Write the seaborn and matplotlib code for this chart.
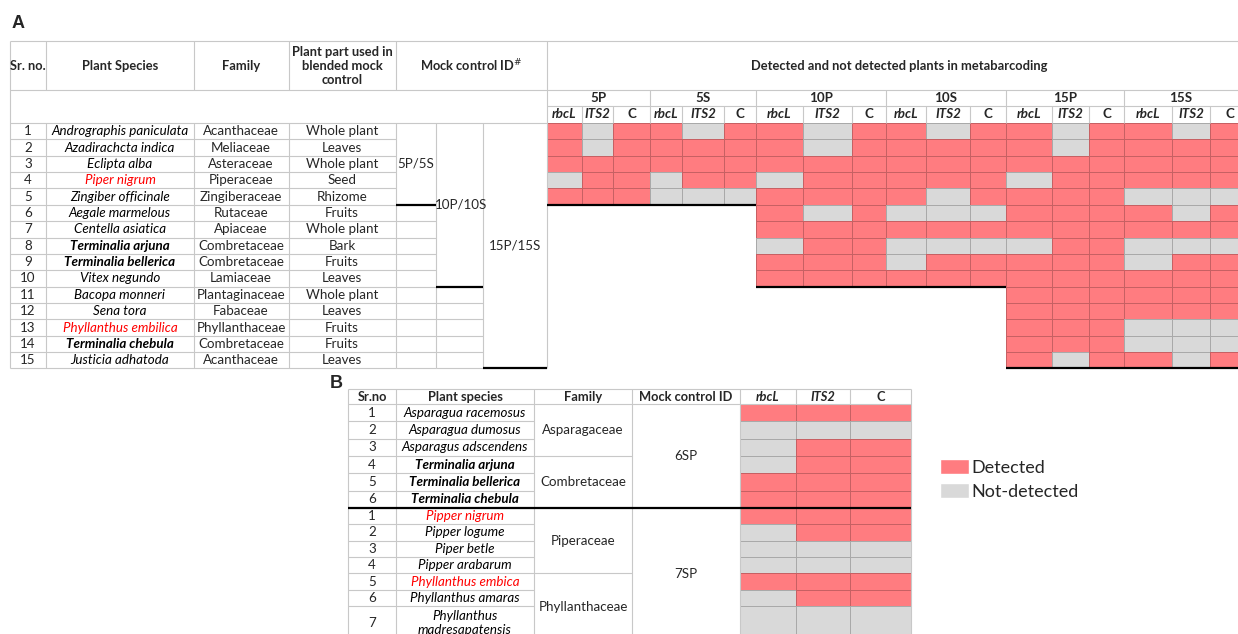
import matplotlib
matplotlib.use("Agg")
import matplotlib.pyplot as plt
import seaborn as sns
import numpy as np
import pandas as pd
from matplotlib.colors import ListedColormap
from matplotlib.patches import Patch

# ---- data: panel A (blended mock controls, 15 plants) ----
sr_a = [str(i) for i in range(1, 16)]
species_a = ["Andrographis paniculata", "Azadirachcta indica", "Eclipta alba", "Piper nigrum",
             "Zingiber officinale", "Aegale marmelous", "Centella asiatica", "Terminalia arjuna",
             "Terminalia bellerica", "Vitex negundo", "Bacopa monneri", "Sena tora",
             "Phyllanthus embilica", "Terminalia chebula", "Justicia adhatoda"]
family_a = ["Acanthaceae", "Meliaceae", "Asteraceae", "Piperaceae", "Zingiberaceae", "Rutaceae",
            "Apiaceae", "Combretaceae", "Combretaceae", "Lamiaceae", "Plantaginaceae", "Fabaceae",
            "Phyllanthaceae", "Combretaceae", "Acanthaceae"]
part_a = ["Whole plant", "Leaves", "Whole plant", "Seed", "Rhizome", "Fruits", "Whole plant", "Bark",
          "Fruits", "Leaves", "Whole plant", "Leaves", "Fruits", "Fruits", "Leaves"]
bold_a = ["Terminalia arjuna", "Terminalia bellerica", "Terminalia chebula"]
red_a = ["Piper nigrum", "Phyllanthus embilica"]

samples = ["5P", "5S", "10P", "10S", "15P", "15S"]
markers = ["rbcL", "ITS2", "C"]
# 1 = detected, 0 = not detected, one row per plant (rbcL, ITS2, C)
det_5P = [[1, 0, 1], [1, 0, 1], [1, 1, 1], [0, 1, 1], [1, 1, 1]]
det_5S = [[1, 0, 1], [1, 1, 1], [1, 1, 1], [0, 1, 1], [0, 0, 0]]
det_10P = [[1, 0, 1], [1, 0, 1], [1, 1, 1], [0, 1, 1], [1, 1, 1],
           [1, 0, 1], [1, 1, 1], [0, 1, 1], [1, 1, 1], [1, 1, 1]]
det_10S = [[1, 0, 1], [1, 1, 1], [1, 1, 1], [1, 1, 1], [1, 0, 1],
           [0, 0, 0], [1, 1, 1], [0, 0, 0], [0, 1, 1], [1, 1, 1]]
det_15P = [[1, 0, 1], [1, 0, 1], [1, 1, 1], [0, 1, 1], [1, 1, 1],
           [1, 1, 1], [1, 1, 1], [0, 1, 1], [1, 1, 1], [1, 1, 1],
           [1, 1, 1], [1, 1, 1], [1, 1, 1], [1, 1, 1], [1, 0, 1]]
det_15S = [[1, 0, 1], [1, 1, 1], [1, 1, 1], [1, 1, 1], [0, 0, 0],
           [1, 0, 1], [1, 1, 1], [0, 0, 0], [0, 1, 1], [1, 1, 1],
           [1, 1, 1], [1, 1, 1], [0, 0, 0], [0, 0, 0], [1, 0, 1]]

# ---- data: panel B (single mock controls) ----
sr_b = ["1", "2", "3", "4", "5", "6", "1", "2", "3", "4", "5", "6", "7"]
species_b = ["Asparagua racemosus", "Asparagua dumosus", "Asparagus adscendens", "Terminalia arjuna",
             "Terminalia bellerica", "Terminalia chebula", "Pipper nigrum", "Pipper logume",
             "Piper betle", "Pipper arabarum", "Phyllanthus embica", "Phyllanthus amaras",
             "Phyllanthus\nmadresapatensis"]
bold_b = ["Terminalia arjuna", "Terminalia bellerica", "Terminalia chebula"]
red_b = ["Pipper nigrum", "Phyllanthus embica"]
families_b = ["Asparagaceae", "Combretaceae", "Piperaceae", "Phyllanthaceae"]
mock_b = ["6SP", "7SP"]
det_6SP = [[1, 1, 1], [0, 0, 0], [0, 1, 1], [0, 1, 1], [1, 1, 1], [1, 1, 1]]
det_7SP = [[1, 1, 1], [0, 1, 1], [0, 0, 0], [0, 0, 0], [1, 1, 1], [0, 1, 1], [0, 0, 0]]

# build the panel A table (NaN = plant not in that mock control)
frames = []
for s, d in zip(samples, [det_5P, det_5S, det_10P, det_10S, det_15P, det_15S]):
    block = pd.DataFrame(d, columns=[f"{s}_{m}" for m in markers])
    frames.append(block.reindex(range(15)))
det_a = pd.concat(frames, axis=1)
det_a.index = sr_a

W, H = 1238, 634
RED = "#FF7C80"
GREY = "#D9D9D9"
GRID = "#C8C8C8"
FS = 9.6
FSH = 9.3

sns.set_theme(style="white")
plt.rcParams["font.family"] = ["Lato", "DejaVu Sans"]

fig = plt.figure(figsize=(W / 100, H / 100), dpi=100)
cmap = ListedColormap([GREY, RED])


def px_axes(x0, y0, x1, y1, **kw):
    return fig.add_axes([x0 / W, 1 - y1 / H, (x1 - x0) / W, (y1 - y0) / H], **kw)


def heat_col(col, x0, x1, y0, rh):
    col = col.dropna()
    hax = px_axes(x0, y0, x1, y0 + rh * len(col))
    sns.heatmap(col.to_frame(), ax=hax, cmap=cmap, vmin=0, vmax=1, cbar=False,
                linewidths=0.7, linecolor=(0, 0, 0, 0.22),
                xticklabels=False, yticklabels=False)
    hax.set_axis_off()


# panel A grid
xa = [547, 582, 613, 650, 682, 724, 756, 803, 852, 886, 926, 970, 1006, 1052, 1089, 1124, 1172, 1210, 1250]
top_a, rh_a = 123, 16.36
for j, c in enumerate(det_a.columns):
    heat_col(det_a[c], xa[j], xa[j + 1], top_a, rh_a)

# panel B grid (rows of 6SP, 7SP rows 1-6, tall row 7)
xb = [740, 796, 850, 911]
df_6 = pd.DataFrame(det_6SP, columns=markers)
df_7 = pd.DataFrame(det_7SP, columns=markers)
for j, m in enumerate(markers):
    heat_col(df_6[m], xb[j], xb[j + 1], 404, 104 / 6)
    heat_col(df_7[m].iloc[:6], xb[j], xb[j + 1], 508, 98 / 6)
    heat_col(df_7[m].iloc[6:], xb[j], xb[j + 1], 606, 34)

# overlay axes in pixel coordinates for the table text and rules
ax = fig.add_axes([0, 0, 1, 1], zorder=5)
ax.set_xlim(0, W)
ax.set_ylim(H, 0)
ax.axis("off")
ax.patch.set_alpha(0)


def hl(y, x0, x1, c=GRID, lw=0.8):
    ax.plot([x0, x1], [y, y], color=c, lw=lw, solid_capstyle="butt")


def vl(x, y0, y1, c=GRID, lw=0.8):
    ax.plot([x, x], [y0, y1], color=c, lw=lw, solid_capstyle="butt")


def txt(x, y, s, **kw):
    kw.setdefault("fontsize", FS)
    ax.text(x, y, s, ha="center", va="center", **kw)


# ----- panel A -----
ax.text(12, 23, "A", fontsize=13, fontweight="bold", family="Liberation Sans", va="center")
hl(41, 10, 1250)
hl(90, 10, 1250)
hl(106, 547, 1250)
hl(123, 10, 547)
for x in [46, 194, 289, 396]:
    vl(x, 41, 90)
vl(10, 41, 368)
vl(547, 41, 368)
for x in xa[3:-1:3]:
    vl(x, 90, 123)
for j, x in enumerate(xa[1:-1]):
    if (j + 1) % 3:
        vl(x, 106, 123)
for x in [46, 194, 289, 396, 436, 483]:
    vl(x, 123, 368)

txt(28, 66, "Sr. no.", fontweight="bold", fontsize=FSH)
txt(120, 66, "Plant Species", fontweight="bold", fontsize=FSH)
txt(241, 66, "Family", fontweight="bold", fontsize=FSH)
txt(342, 66, "Plant part used in\nblended mock\ncontrol", fontweight="bold", fontsize=FSH,
    linespacing=1.15)
txt(471, 66, r"Mock control ID$^{\#}$", fontweight="bold", fontsize=FSH)
txt(899, 66, "Detected and not detected plants in metabarcoding", fontweight="bold", fontsize=FSH)
for k, s in enumerate(samples):
    txt((xa[3 * k] + min(xa[3 * k + 3], 1238)) / 2, 98, s, fontweight="bold")
    for m in range(3):
        j = 3 * k + m
        txt((xa[j] + xa[j + 1]) / 2, 114.5, markers[m], fontweight="bold",
            fontstyle="normal" if markers[m] == "C" else "italic")

for i in range(15):
    yc = top_a + (i + 0.5) * rh_a
    yb = top_a + (i + 1) * rh_a
    sp = species_a[i]
    txt(28, yc, sr_a[i])
    txt(120, yc, sp, fontstyle="italic",
        fontweight="bold" if sp in bold_a else "normal",
        color="#FF0000" if sp in red_a else "black")
    txt(241, yc, family_a[i])
    txt(342, yc, part_a[i])
    hl(yb, 10, 396)
    if i >= 5:
        hl(yb, 396, 436)
    if i >= 10:
        hl(yb, 436, 483)

hl(top_a + 5 * rh_a, 396, 436, "black", 1.6)
hl(top_a + 5 * rh_a, 547, 756, "black", 1.6)
hl(top_a + 10 * rh_a, 436, 483, "black", 1.6)
hl(top_a + 10 * rh_a, 756, 1006, "black", 1.6)
hl(top_a + 15 * rh_a, 483, 547, "black", 1.6)
hl(top_a + 15 * rh_a, 1006, 1250, "black", 1.6)
txt(416, top_a + 2.5 * rh_a, "5P/5S")
txt(461, top_a + 5 * rh_a, "10P/10S")
txt(515, top_a + 7.5 * rh_a, "15P/15S")

# ----- panel B -----
ax.text(330, 383, "B", fontsize=13, fontweight="bold", family="Liberation Sans", va="center")
yb_rows = [404 + i * 104 / 6 for i in range(7)] + [508 + i * 98 / 6 for i in range(1, 7)] + [640]
hl(389, 348, 911)
hl(404, 348, 911)
for x in [348, 396, 534, 632, 740, 911]:
    vl(x, 389, 640)
for x in [796, 850]:
    vl(x, 389, 404)
for y in yb_rows[1:-1]:
    hl(y, 348, 534)
hl(yb_rows[3], 534, 632)
hl(yb_rows[10], 534, 632)
hl(508, 348, 911, "black", 1.6)

txt(372, 397, "Sr.no", fontweight="bold", fontsize=FSH)
txt(465, 397, "Plant species", fontweight="bold", fontsize=FSH)
txt(583, 397, "Family", fontweight="bold", fontsize=FSH)
txt(686, 397, "Mock control ID", fontweight="bold", fontsize=FSH)
for j, m in enumerate(markers):
    txt((xb[j] + xb[j + 1]) / 2, 397, m, fontweight="bold", fontsize=FSH,
        fontstyle="normal" if m == "C" else "italic")

for i in range(13):
    yc = (yb_rows[i] + yb_rows[i + 1]) / 2
    sp = species_b[i]
    txt(372, yc, sr_b[i])
    txt(465, yc, sp, fontstyle="italic", linespacing=1.1,
        fontweight="bold" if sp in bold_b else "normal",
        color="#FF0000" if sp in red_b else "black")

fam_rows = [(0, 3), (3, 6), (6, 10), (10, 13)]
for f, (a, b) in zip(families_b, fam_rows):
    txt(583, (yb_rows[a] + yb_rows[b]) / 2, f)
txt(686, (yb_rows[0] + yb_rows[6]) / 2, mock_b[0])
txt(686, (yb_rows[6] + yb_rows[13]) / 2, mock_b[1])

handles = [Patch(facecolor=RED, label="Detected"), Patch(facecolor=GREY, label="Not-detected")]
fig.legend(handles=handles, loc="upper left", bbox_to_anchor=(940 / W, 1 - 459 / H),
           frameon=False, fontsize=13, handlelength=1.6, handleheight=0.9,
           handletextpad=0.15, labelspacing=0.42, borderaxespad=0, borderpad=0)

fig.savefig("out.png", dpi=100)
